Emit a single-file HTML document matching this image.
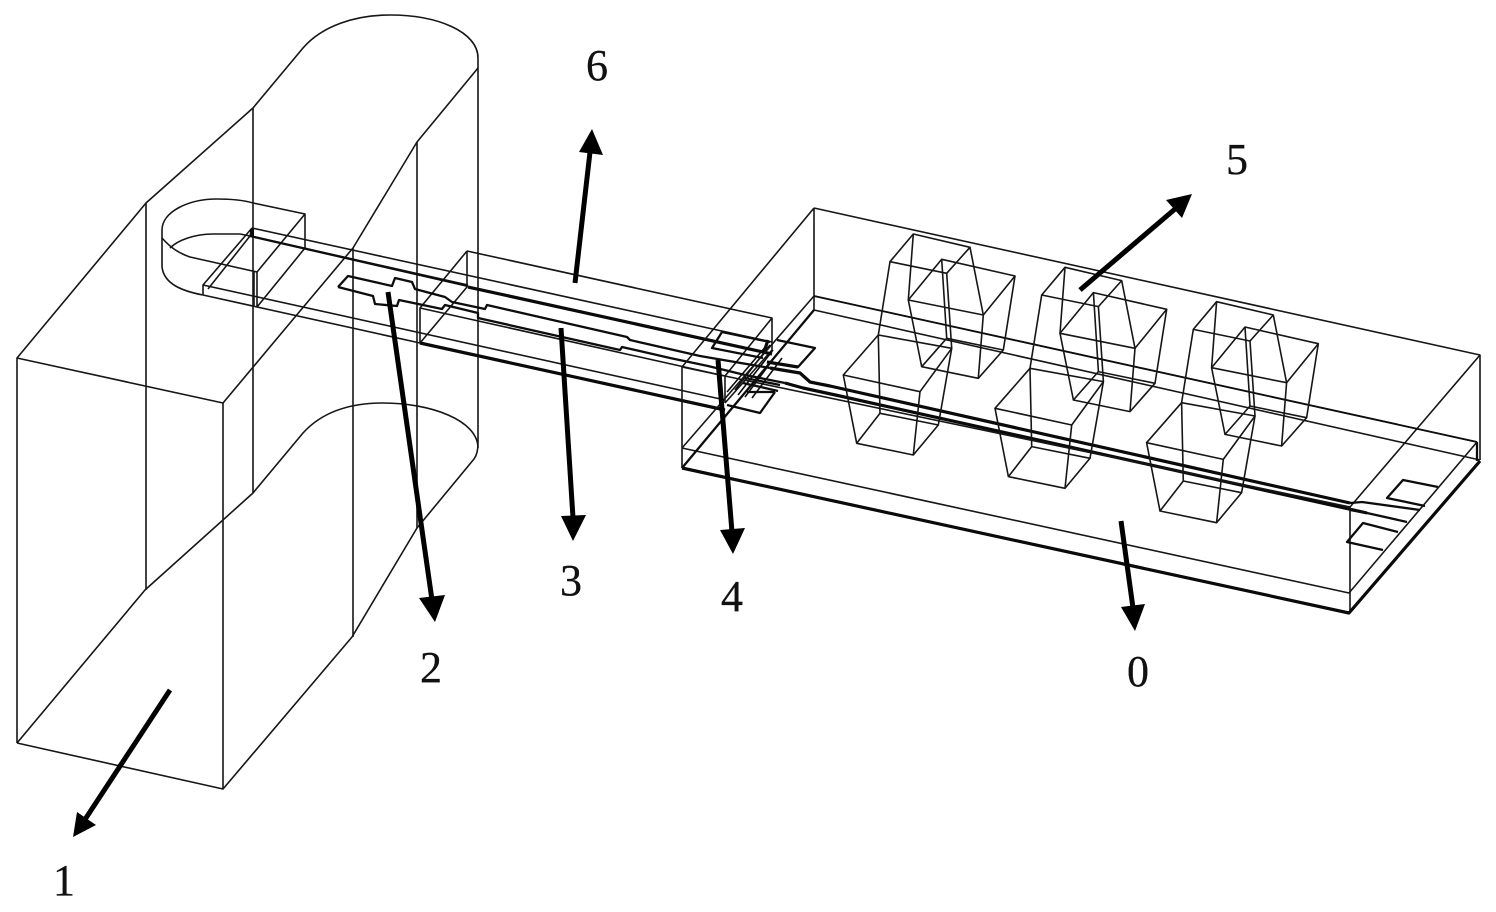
<!DOCTYPE html>
<html><head><meta charset="utf-8"><style>
html,body{margin:0;padding:0;background:#fff;width:1496px;height:912px;overflow:hidden}
svg{display:block}
.t{fill:none;stroke:#161616;stroke-width:1.6;stroke-linejoin:round}
.m{fill:none;stroke:#0d0d0d;stroke-width:2.3;stroke-linejoin:round}
.k{fill:none;stroke:#0a0a0a;stroke-width:3.2;stroke-linejoin:round}
.a{stroke:#000;stroke-width:5;fill:none}
text{font-family:"Liberation Serif",serif;font-size:44px;fill:#111;stroke:#111;stroke-width:.3;text-anchor:middle}
</style></head><body>
<svg width="1496" height="912" viewBox="0 0 1496 912" xmlns="http://www.w3.org/2000/svg">
<defs>
<g id="u" class="t">
<path d="M890,261.7L913.3,234L970,247.3L946.7,273.3Z"/>
<path d="M908.3,300L941.7,259.3L1015,276L983.3,315Z"/>
<path d="M921.7,366.7L946.7,338.3L1003.3,350L978.3,378.3Z"/>
<path d="M843.3,375L878.3,335L951.7,348.3L920,391.7Z"/>
<path d="M856.7,443.3L880,413.3L938.3,425L913.3,455Z"/>
<path d="M890,261.7L878.3,335M913.3,234L908.3,300M970,247.3L983.3,315M946.7,273.3L951.7,348.3"/>
<path d="M908.3,300L921.7,366.7M983.3,315L978.3,378.3M1015,276L1003.3,350M941.7,259.3L946.7,338.3"/>
<path d="M843.3,375L856.7,443.3M920,391.7L913.3,455M951.7,348.3L938.3,425M878.3,335L880,413.3"/>
</g>
</defs>

<!-- large horn -->
<g class="t">
<path d="M17,743V358L223,403V789L17,743"/>
<path d="M17,358L146,203L253,108L303,48C322,26 355,15 390,15C438,15 478,32 478,58V443C478,450 477,455 474,459L417,528L352,637L223,789"/>
<path d="M223,403L295,317L353,248L417,142L478,68"/>
<path d="M17,743L145,590L253,493L303,433C322,412 350,403 383,403C430,403 478,420 478,448"/>
<path d="M146,203V590M253,108V493M353,248V637M417,142V528"/>
</g>

<!-- waveguide -->
<g class="t">
<path d="M162,267V230C162,212 188,199 217,199C232,199 243,200 253,203L305,214V248"/>
<path d="M252,228L203,285V295M305,214L257,272V307M305,248L257,307"/>
<path d="M162,238C170,247 178,253 190,257L257,272"/>
<path d="M170,248C178,240 195,234 213,234L240,234L250,236"/>
<path d="M252,228L250,236M250,236L208,289"/>
<path d="M162,267C164,284 182,291 203,295"/>
<path d="M252,228L772,342M250,236L468,285"/>
<path d="M203,285L725,400"/>
<path d="M203,295L420,343"/>
<path d="M254,272V306"/>
<!-- middle box -->
<path d="M467,251L772,318V350L725,403M467,251V287L420,343V308L467,251M420,308L725,376M772,318L725,376V403"/>
</g>
<path class="k" d="M420,343L725,410"/>
<path class="m" d="M250,236L468,286"/>
<path class="k" style="stroke-width:4" d="M252,229V236"/>

<!-- filter microstrip -->
<path class="m" d="M338,287L348,276L392,286L395,278L412,282L415,289L445,297L452,302L485,309L487,305L627,337L630,340L700,356L770,368"/>
<path class="m" d="M338,287L373,296L375,304L397,306L399,300L442,309L445,305L478,313L478,318L620,350L622,347L670,358L708,366L745,375L785,383"/>
<path class="k" d="M468,287L772,354"/>
<path class="k" d="M770,368L800,373L810,382L830,386L1350,503"/>
<path class="k" d="M785,383L803,388L840,396L1367,513"/>

<!-- input pads -->
<g class="m">
<path d="M770,342L722,332L712,348L763,358"/>
<path d="M777,340L815,348L798,367L767,362"/>
<path d="M775,392L760,413L727,405"/>
<path d="M747,392L775,392"/>
<path d="M745,378L780,385"/>
<path d="M743,383L778,391"/>
</g>
<path class="k" d="M767,362L798,367M768,340L764,352"/>
<g class="m" style="stroke-width:1.6">
<path d="M770,345L735,390M773,350L738,395M777,354L745,397M782,358L752,398M767,345L727,392"/>
</g>

<!-- main box -->
<g class="t">
<path d="M814,208L1480,355V460M814,208L682,367V468M814,208V310"/>
<path d="M682,367L1350,507V613M1480,355L1350,507"/>
<path d="M814,296L1477,442M814,296L682,448"/>
<path d="M682,448L1349,593L1477,442"/>
<path d="M814,310L1480,460"/>
<path d="M814,310L682,468"/>
</g>
<path class="k" d="M682,468L1349,613L1480,461"/>
<path class="m" d="M814,310L682,468"/>
<path class="m" d="M1477,442V461"/>
<path class="m" d="M814,296L1477,442" style="stroke-width:1.8"/>

<!-- output pads -->
<g class="m">
<path d="M1350,503L1362,502L1420,510"/>
<path d="M1350,510L1367,513L1407,522"/>
<path d="M1438,487L1403,480L1387,498L1425,506"/>
<path d="M1398,532L1363,523L1347,542L1383,550"/>
</g>

<!-- cavities -->
<use href="#u"/>
<use href="#u" transform="translate(151.7,33.3)"/>
<use href="#u" transform="translate(303.3,67.7)"/>

<!-- arrows -->
<g class="a">
<path d="M170,690L84,821"/>
<path d="M388,292L432,600"/>
<path d="M561,328L573,518"/>
<path d="M718,360L732,532"/>
<path d="M575,283L590,152"/>
<path d="M1080,290L1175,209"/>
<path d="M1121,521L1133,608"/>
</g>
<g fill="#000">
<polygon points="73,837 77,812 96,825"/>
<polygon points="435,622 419,598 445,595"/>
<polygon points="573,541 561,516 586,515"/>
<polygon points="733,554 720,530 745,528"/>
<polygon points="592,129 603,155 579,152"/>
<polygon points="1192,194 1182,218 1166,200"/>
<polygon points="1135,631 1121,607 1145,604"/>
</g>

<!-- labels -->
<text x="64" y="895">1</text>
<text x="431" y="682">2</text>
<text x="571" y="595">3</text>
<text x="732" y="611">4</text>
<text x="1237" y="174">5</text>
<text x="597" y="80">6</text>
<text x="1138" y="686">0</text>
</svg>
</body></html>
